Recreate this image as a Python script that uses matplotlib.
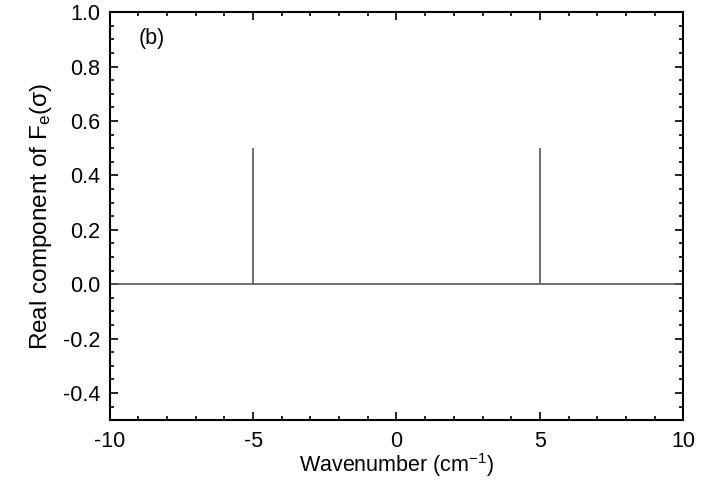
import matplotlib
matplotlib.use("Agg")
import matplotlib.pyplot as plt
from matplotlib.ticker import MultipleLocator, FormatStrFormatter

plt.rcParams['font.family'] = ['Liberation Sans', 'DejaVu Sans']
plt.rcParams['mathtext.fontset'] = 'custom'
plt.rcParams['mathtext.rm'] = 'Liberation Sans'
plt.rcParams['mathtext.it'] = 'Liberation Sans'
plt.rcParams['axes.unicode_minus'] = False

# data
baseline_x = [-10, 10]
baseline_y = [0.0, 0.0]
spike_x = [-5, 5]
spike_y = [0.5, 0.5]

fig = plt.figure(figsize=(7.08, 4.84), dpi=100)
ax = fig.add_axes([0.155, 0.132, 0.81, 0.843])

ax.plot(baseline_x, baseline_y, color='#555555', lw=1.2)
ax.vlines(spike_x, 0, spike_y, color='#555555', lw=1.2)

ax.set_xlim(-10, 10)
ax.set_ylim(-0.5, 1.0)
ax.xaxis.set_major_locator(MultipleLocator(5))
ax.xaxis.set_minor_locator(MultipleLocator(1))
ax.yaxis.set_major_locator(MultipleLocator(0.2))
ax.yaxis.set_minor_locator(MultipleLocator(0.05))
ax.yaxis.set_major_formatter(FormatStrFormatter('%.1f'))

ax.tick_params(which='both', direction='in', top=True, right=True, labelsize=15.5, width=1.2)
ax.tick_params(which='major', length=6, pad=7)
ax.tick_params(which='minor', length=3)
ax.tick_params(axis='x', pad=8)
for s in ax.spines.values():
    s.set_linewidth(1.5)

ax.set_xlabel('Wavenumber (cm$^{\\mathregular{-1}}$)', fontsize=15.5, labelpad=-1)
ax.set_ylabel('Real component of F$_{\\mathregular{e}}$(σ)', fontsize=17.5, labelpad=6)
ax.text(0.05, 0.935, '(b)', transform=ax.transAxes, fontsize=15.5, va='center')

plt.savefig('out.png', dpi=100)
